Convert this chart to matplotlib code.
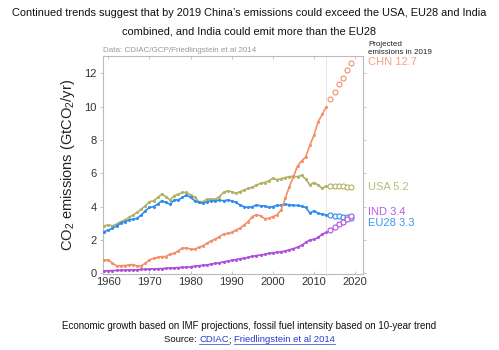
import matplotlib
matplotlib.use("Agg")
import matplotlib.pyplot as plt
from matplotlib.lines import Line2D

plt.rcParams['font.family'] = ['Liberation Sans', 'DejaVu Sans']
plt.rcParams['mathtext.default'] = 'regular'

years_hist = list(range(1959, 2014))
years_proj = list(range(2014, 2020))

chn_hist = [0.78, 0.80, 0.60, 0.45, 0.45, 0.46, 0.50, 0.52, 0.43, 0.45, 0.60,
            0.80, 0.90, 0.95, 1.00, 1.00, 1.15, 1.20, 1.35, 1.50, 1.52,
            1.45, 1.45, 1.55, 1.65, 1.80, 1.95, 2.05, 2.20, 2.35, 2.40,
            2.45, 2.60, 2.70, 2.90, 3.10, 3.40, 3.52, 3.45, 3.28, 3.30,
            3.40, 3.50, 3.80, 4.50, 5.20, 5.80, 6.45, 6.75, 7.00, 7.70,
            8.30, 9.10, 9.55, 10.00]
chn_proj = [10.45, 10.90, 11.35, 11.75, 12.20, 12.65]

usa_hist = [2.85, 2.90, 2.85, 2.95, 3.10, 3.20, 3.35, 3.50, 3.65, 3.85, 4.05,
            4.30, 4.35, 4.55, 4.75, 4.60, 4.40, 4.65, 4.75, 4.85, 4.85,
            4.70, 4.55, 4.30, 4.30, 4.45, 4.45, 4.45, 4.60, 4.85, 4.95,
            4.90, 4.80, 4.90, 5.00, 5.10, 5.15, 5.30, 5.40, 5.45, 5.55,
            5.70, 5.62, 5.68, 5.75, 5.80, 5.82, 5.80, 5.88, 5.65, 5.30,
            5.45, 5.30, 5.10, 5.25]
usa_proj = [5.25, 5.25, 5.22, 5.22, 5.20, 5.20]

eu_hist = [2.50, 2.60, 2.70, 2.85, 3.00, 3.10, 3.20, 3.25, 3.30, 3.50, 3.75,
           3.95, 4.00, 4.15, 4.35, 4.25, 4.15, 4.40, 4.40, 4.55, 4.70,
           4.55, 4.35, 4.25, 4.20, 4.30, 4.35, 4.35, 4.40, 4.35, 4.40,
           4.35, 4.25, 4.10, 4.00, 3.95, 4.00, 4.10, 4.05, 4.05, 3.95,
           4.00, 4.07, 4.08, 4.13, 4.12, 4.08, 4.07, 4.02, 3.95, 3.62,
           3.75, 3.60, 3.55, 3.50]
eu_proj = [3.47, 3.44, 3.41, 3.38, 3.35, 3.32]

ind_hist = [0.14, 0.15, 0.16, 0.17, 0.18, 0.18, 0.20, 0.20, 0.21, 0.23, 0.24,
            0.25, 0.26, 0.27, 0.28, 0.29, 0.31, 0.32, 0.34, 0.35, 0.36,
            0.39, 0.42, 0.45, 0.48, 0.50, 0.55, 0.59, 0.63, 0.68, 0.73,
            0.77, 0.82, 0.87, 0.90, 0.95, 1.02, 1.06, 1.10, 1.13, 1.20,
            1.23, 1.25, 1.29, 1.33, 1.41, 1.48, 1.56, 1.68, 1.85, 2.00,
            2.03, 2.15, 2.35, 2.45]
ind_proj = [2.60, 2.77, 2.95, 3.10, 3.26, 3.42]

names = ['CHN', 'USA', 'IND', 'EU28']
label_values = ['12.7', '5.2', '3.4', '3.3']
line_colors = ['#f3906a', '#b2b162', '#b04fdc', '#2f8cf0']
text_colors = ['#f5a07e', '#bcbb7c', '#b85ee0', '#3d95f2']
label_y = [12.7, 5.2, 3.70, 3.02]

series_hist = [chn_hist, usa_hist, ind_hist, eu_hist]
series_proj = [chn_proj, usa_proj, ind_proj, eu_proj]

fig = plt.figure(figsize=(4.99, 3.5), dpi=100)
ax = fig.add_axes([0.2064, 0.217, 0.521, 0.623])

ax.axvline(2013, color='#e2e2e2', lw=0.6, zorder=0)

draw_order = [1, 3, 0, 2]
for i in draw_order:
    ax.plot(years_hist, series_hist[i], color=line_colors[i], lw=1.2,
            marker='o', ms=2.2, mew=0, zorder=3)
    ax.plot(years_proj, series_proj[i], ls='none', marker='o', ms=3.6,
            mfc='white', mec=line_colors[i], mew=0.8, zorder=3)

for i in range(4):
    ax.text(1.02, label_y[i], f"{names[i]} {label_values[i]}",
            transform=ax.get_yaxis_transform(), color=text_colors[i],
            fontsize=8, va='center', ha='left')

ax.set_xlim(1958.7, 2021.9)
ax.set_ylim(-0.05, 13.05)
ax.set_xticks([1960, 1970, 1980, 1990, 2000, 2010, 2020])
ax.set_yticks([0, 2, 4, 6, 8, 10, 12])
for s in ax.spines.values():
    s.set_color('#bbbbbb')
    s.set_linewidth(0.8)
ax.tick_params(axis='both', colors='#bbbbbb', labelcolor='#333333',
               labelsize=8, length=2.5, width=0.6, pad=2)
ax.tick_params(top=True, right=True, direction='in')
ax.tick_params(axis='y', left=True, direction='out')

ax.set_ylabel('CO$_2$ emissions (GtCO$_2$/yr)', fontsize=10.5,
              color='#222222', labelpad=5)

ax.text(0.0, 1.008, 'Data: CDIAC/GCP/Friedlingstein et al 2014',
        transform=ax.transAxes, fontsize=5.8, color='#999999', ha='left', va='bottom')
ax.text(1.02, 1.0, 'Projected\nemissions in 2019', transform=ax.transAxes,
        fontsize=5.8, color='#222222', ha='left', va='bottom', linespacing=1.2)

fig.text(0.5, 0.962, "Continued trends suggest that by 2019 China’s emissions could exceed the USA, EU28 and India",
         ha='center', va='center', fontsize=7.9, color='#111111')
fig.text(0.5, 0.910, "combined, and India could emit more than the EU28",
         ha='center', va='center', fontsize=7.9, color='#111111')

fig.text(0.5, 0.069, "Economic growth based on IMF projections, fossil fuel intensity based on 10-year trend",
         ha='center', va='center', fontsize=7.0, color='#111111')

# Source line, pieces laid out one after another
renderer = fig.canvas.get_renderer()
pieces = [("Source: ", '#111111', False), ("CDIAC", '#2a3bd0', True),
          ("; ", '#111111', False), ("Friedlingstein et al 2014", '#2a3bd0', True)]
fs = 6.8
texts = [fig.text(0, 0, p[0], fontsize=fs, color=p[1], ha='left', va='baseline')
         for p in pieces]
widths = [t.get_window_extent(renderer).width for t in texts]
total = sum(widths)
W, H = fig.bbox.width, fig.bbox.height
x0 = (W - total) / 2
base_y = 342.5
for t, w, p in zip(texts, widths, pieces):
    t.set_position((x0 / W, 1 - base_y / H))
    if p[2]:
        fig.add_artist(Line2D([x0 / W, (x0 + w) / W], [1 - (base_y + 1.5) / H] * 2,
                              color=p[1], lw=0.5, transform=fig.transFigure))
    x0 += w

fig.savefig('out.png', dpi=100, facecolor='white')
